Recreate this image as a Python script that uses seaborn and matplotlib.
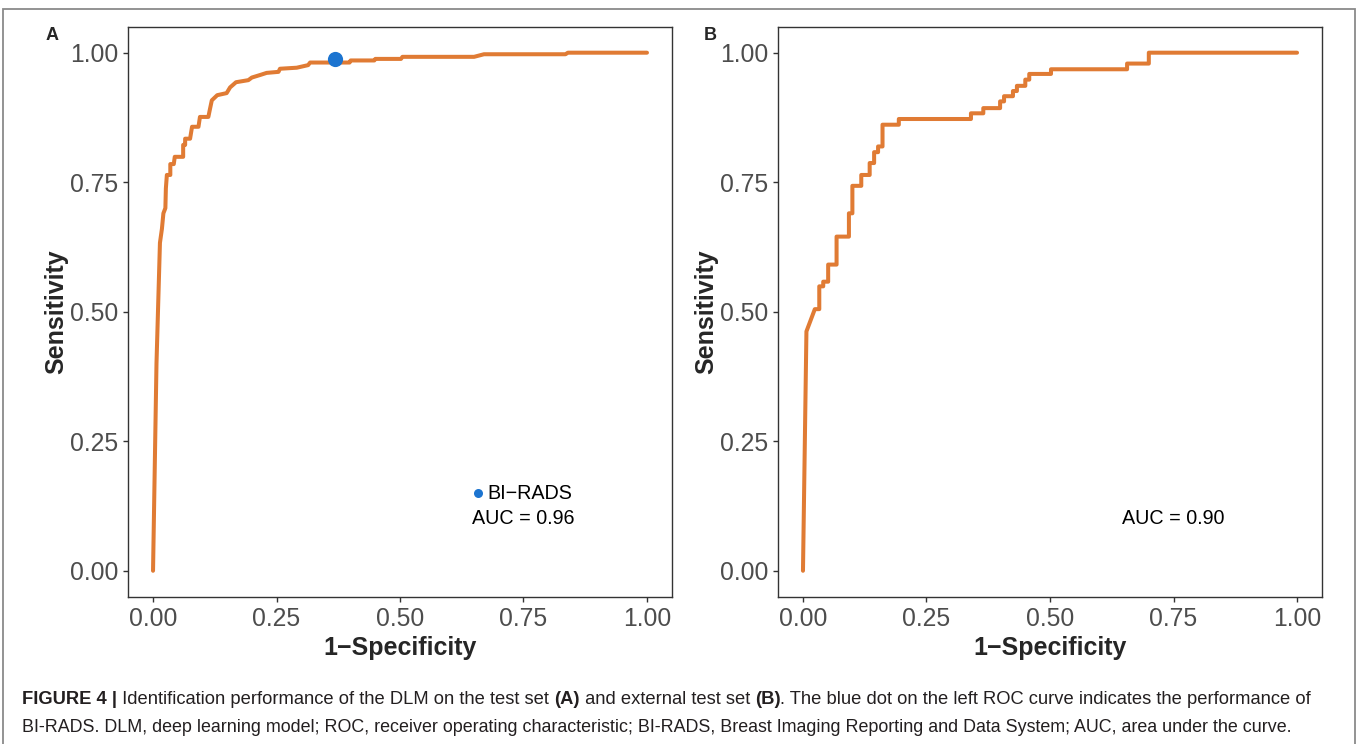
import matplotlib
matplotlib.use("Agg")
import matplotlib.pyplot as plt
import seaborn as sns
from matplotlib.patches import Rectangle

# ROC 曲线顶点 (1-Specificity, Sensitivity)
FPR_A = [0.0, 0.007, 0.014, 0.018, 0.021, 0.025, 0.026, 0.028, 0.035, 0.035, 0.042, 0.044,
         0.061, 0.061, 0.065, 0.065, 0.075, 0.079, 0.092, 0.095, 0.112, 0.115, 0.119, 0.13,
         0.149, 0.156, 0.168, 0.193, 0.20, 0.217, 0.23, 0.254, 0.257, 0.291, 0.314, 0.318,
         0.398, 0.40, 0.448, 0.45, 0.502, 0.505, 0.65, 0.67, 0.835, 0.84, 1.0]
TPR_A = [0.0, 0.40, 0.633, 0.66, 0.69, 0.70, 0.738, 0.764, 0.764, 0.785, 0.785, 0.799,
         0.799, 0.822, 0.822, 0.834, 0.834, 0.857, 0.857, 0.876, 0.876, 0.89, 0.908, 0.918,
         0.922, 0.933, 0.943, 0.947, 0.952, 0.957, 0.961, 0.963, 0.969, 0.971, 0.976, 0.981,
         0.981, 0.985, 0.985, 0.988, 0.988, 0.992, 0.992, 0.997, 0.997, 1.0, 1.0]

FPR_B = [0.0, 0.007, 0.024, 0.033, 0.033, 0.041, 0.041, 0.051, 0.051, 0.068, 0.068, 0.093,
         0.093, 0.100, 0.100, 0.118, 0.118, 0.135, 0.135, 0.144, 0.144, 0.152, 0.152, 0.161,
         0.161, 0.194, 0.194, 0.340, 0.340, 0.365, 0.365, 0.399, 0.399, 0.407, 0.407, 0.425,
         0.425, 0.433, 0.433, 0.450, 0.450, 0.458, 0.458, 0.502, 0.502, 0.656, 0.656, 0.70,
         0.70, 1.0]
TPR_B = [0.0, 0.462, 0.505, 0.505, 0.549, 0.549, 0.558, 0.558, 0.591, 0.591, 0.645, 0.645,
         0.69, 0.69, 0.743, 0.743, 0.764, 0.764, 0.787, 0.787, 0.808, 0.808, 0.819, 0.819,
         0.861, 0.861, 0.872, 0.872, 0.883, 0.883, 0.893, 0.893, 0.906, 0.906, 0.916, 0.916,
         0.926, 0.926, 0.936, 0.936, 0.948, 0.948, 0.959, 0.959, 0.968, 0.968, 0.979, 0.979,
         1.0, 1.0]

BIRADS_FPR = [0.368]
BIRADS_TPR = [0.987]

AUC_A = "AUC = 0.96"
AUC_B = "AUC = 0.90"
TICKS = [0.00, 0.25, 0.50, 0.75, 1.00]
TICK_LABELS = ["0.00", "0.25", "0.50", "0.75", "1.00"]

ORANGE = "#E07B34"
BLUE = "#1C74D0"

sns.set_theme(style="white")
plt.rcParams.update({
    "font.family": ["Liberation Sans", "DejaVu Sans"],
    "axes.edgecolor": "#333333",
    "axes.linewidth": 1.0,
    "xtick.color": "#333333",
    "ytick.color": "#333333",
    "xtick.labelcolor": "#4D4D4D",
    "ytick.labelcolor": "#4D4D4D",
    "xtick.bottom": True,
    "ytick.left": True,
    "xtick.major.size": 3.6,
    "ytick.major.size": 3.6,
    "xtick.major.width": 1.0,
    "ytick.major.width": 1.0,
    "xtick.major.pad": 3.6,
    "ytick.major.pad": 3.6,
})

fig = plt.figure(figsize=(13.58, 7.44), dpi=100)

# 外框
fig.patches.append(Rectangle((3 / 1358, -0.02), 1352 / 1358, 1.004 - 11.7 / 744 + 0.02,
                             transform=fig.transFigure, fill=False,
                             edgecolor="#8a8a8a", linewidth=1.3))

ax_a = fig.add_axes([0.0945, 0.198, 0.4001, 0.766])
ax_b = fig.add_axes([0.5731, 0.198, 0.4002, 0.766])


def style_axis(ax):
    ax.set_xlim(-0.05, 1.05)
    ax.set_ylim(-0.05, 1.05)
    ax.set_xticks(TICKS)
    ax.set_xticklabels(TICK_LABELS, fontsize=17.8)
    ax.set_yticks(TICKS)
    ax.set_yticklabels(TICK_LABELS, fontsize=17.8)
    ax.set_xlabel("1\u2212Specificity", fontsize=18, fontweight="bold", labelpad=4)
    ax.set_ylabel("Sensitivity", fontsize=18, fontweight="bold", labelpad=1)
    ax.grid(False)
    for s in ax.spines.values():
        s.set_visible(True)


# 面板 A
sns.lineplot(x=FPR_A, y=TPR_A, sort=False, estimator=None, color=ORANGE,
             linewidth=2.9, ax=ax_a)
sns.scatterplot(x=BIRADS_FPR, y=BIRADS_TPR, color=BLUE, s=120, linewidth=0,
                ax=ax_a, zorder=5)
style_axis(ax_a)
ax_a.plot([0.658], [0.15], "o", color=BLUE, markersize=6.5, markeredgewidth=0)
ax_a.text(0.677, 0.15, "BI\u2212RADS", fontsize=14.2, ha="left", va="center", color="black")
ax_a.text(0.75, 0.10, AUC_A, fontsize=14.2, ha="center", va="center", color="black")

# 面板 B
sns.lineplot(x=FPR_B, y=TPR_B, sort=False, estimator=None, color=ORANGE,
             linewidth=2.9, ax=ax_b)
style_axis(ax_b)
ax_b.text(0.75, 0.10, AUC_B, fontsize=14.2, ha="center", va="center", color="black")

fig.text(52 / 1358, 1 - 36 / 744, "A", fontsize=13, fontweight="bold", ha="center", va="center")
fig.text(710 / 1358, 1 - 36 / 744, "B", fontsize=13, fontweight="bold", ha="center", va="center")

# 图注(粗细混排,逐段接续)
line1 = [("FIGURE 4 |", "bold"),
         (" Identification performance of the DLM on the test set ", "normal"),
         ("(A)", "bold"), (" and external test set ", "normal"), ("(B)", "bold"),
         (". The blue dot on the left ROC curve indicates the performance of", "normal")]
line2 = [("BI-RADS. DLM, deep learning model; ROC, receiver operating characteristic; "
          "BI-RADS, Breast Imaging Reporting and Data System; AUC, area under the curve.",
          "normal")]


def chain(parts, x, y, size):
    prev = None
    for txt, weight in parts:
        if prev is None:
            prev = fig.text(x, y, txt, fontsize=size, fontweight=weight,
                            color="#231f20", ha="left", va="bottom")
        else:
            prev = fig.add_artist(plt.Annotation(txt, xy=(1, 0), xycoords=prev,
                                                 fontsize=size, fontweight=weight,
                                                 color="#231f20", ha="left", va="bottom"))


chain(line1, 22 / 1358, 1 - 708 / 744, 13.2)
chain(line2, 22 / 1358, 1 - 736 / 744, 12.85)

fig.savefig("out.png", dpi=100)
